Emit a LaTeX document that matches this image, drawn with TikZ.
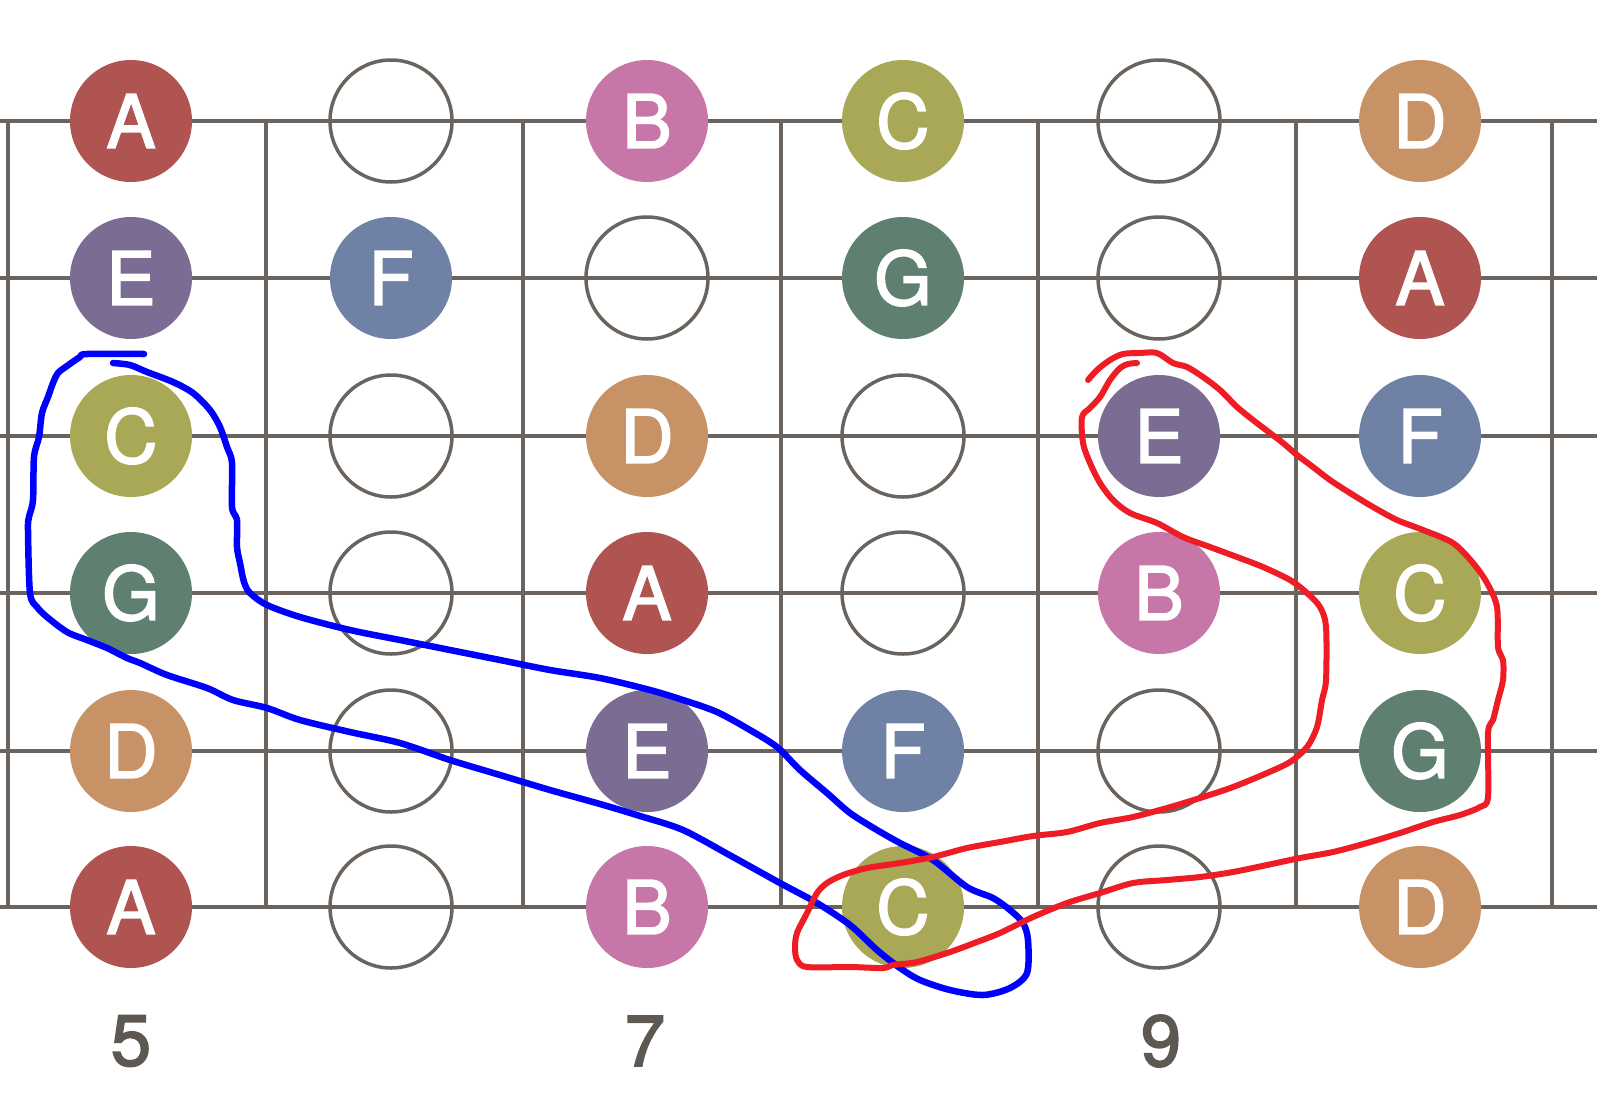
\documentclass[tikz,border=0pt]{standalone}
\usepackage{fontspec}
\newfontfamily\heros[FakeBold=2]{TeX Gyre Heros}
\newfontfamily\herosd[FakeBold=2.5]{TeX Gyre Heros}
\definecolor{noteA}{HTML}{B05452}
\definecolor{noteB}{HTML}{C677A8}
\definecolor{noteC}{HTML}{A9A857}
\definecolor{noteD}{HTML}{C79366}
\definecolor{noteE}{HTML}{7B6C94}
\definecolor{noteF}{HTML}{6F81A5}
\definecolor{noteG}{HTML}{5F8070}
\definecolor{gridc}{HTML}{6B645E}
\definecolor{digitc}{HTML}{5E5853}
\definecolor{penblue}{HTML}{0000FF}
\definecolor{penred}{HTML}{EE1C25}
\begin{document}
\begin{tikzpicture}[x=1pt,y=-1pt,
  gridline/.style={draw=gridc, line width=3.5pt},
  note/.style={circle, minimum size=122pt, inner sep=0pt, text=white,
    font=\heros\fontsize{74}{74}\selectfont},
  emptynote/.style={circle, minimum size=122pt, inner sep=0pt, draw=gridc, line width=3.5pt},
  fretnum/.style={text=digitc, inner sep=0pt, font=\herosd\fontsize{72}{72}\selectfont},
  bluepen/.style={draw=penblue, line width=6.5pt, line cap=round, line join=round},
  redpen/.style={draw=penred, line width=6pt, line cap=round, line join=round}]
\useasboundingbox (0,0) rectangle (1597,1095);
\fill[white] (0,0) rectangle (1597,1095);
% grid
\foreach \y in {121,278,436,593,751,907}
  \draw[gridline] (0,\y) -- (1597,\y);
\foreach \x in {8,266,523,781,1038,1296,1552}
  \draw[gridline] (\x,121) -- (\x,907);
% columns and rows
\def\cx#1{\ifcase#1\or131\or391\or647\or903\or1159\or1420\fi}
\def\ry#1{\ifcase#1\or121\or278\or436\or593\or751\or907\fi}
% empty positions
\foreach \r/\c in {1/2,1/5,2/3,2/5,3/2,3/4,4/2,4/4,5/2,5/5,6/2,6/5}
  \node[emptynote] (n\r\c) at (\cx{\c},\ry{\r}) {};
% notes
\foreach \r/\c/\l in {1/1/A,1/3/B,1/4/C,1/6/D,
                      2/1/E,2/2/F,2/4/G,2/6/A,
                      3/1/C,3/3/D,3/5/E,3/6/F,
                      4/1/G,4/3/A,4/5/B,4/6/C,
                      5/1/D,5/3/E,5/4/F,5/6/G,
                      6/1/A,6/3/B,6/4/C,6/6/D}
  \node[note, fill=note\l] (n\r\c) at (\cx{\c},\ry{\r}) {\l};
% fret numbers
\node[fretnum] (f5) at (131,1041) {5};
\node[fretnum] (f7) at (645,1041) {7};
\node[fretnum] (f9) at (1161,1041) {9};
% blue hand-drawn loop
\draw[bluepen] plot[smooth, tension=0.5] coordinates {
 (144,354) (87,354) (80,357) (67,366) (58,373) (53,383) (48,397) (42,413)
 (39,437) (34,457) (33,500) (29,517) (28,530) (30,593) (37,607) (47,617)
 (67,632) (87,640) (107,648) (127,658) (140,663) (167,675) (207,688)
 (233,700) (267,708) (300,720) (350,732) (400,743) (450,760) (500,775)
 (550,790) (600,804) (640,816) (683,830) (733,857) (780,883) (817,903)
 (850,925) (877,950) (900,968) (920,980) (950,990) (983,995) (1010,988)
 (1027,973) (1028,940) (1023,923) (1010,910) (993,898) (967,887) (933,860)
 (900,843) (877,830) (850,813) (827,793) (800,770) (777,747) (750,730)
 (717,712) (683,700) (650,690) (600,678) (550,670) (500,660) (450,650)
 (400,640) (350,630) (300,617) (267,605) (250,593) (244,582) (240,563)
 (237,547) (237,520) (232,507) (232,463) (227,447) (220,427) (210,410)
 (193,393) (173,382) (147,372) (130,365) (113,363)};
% red hand-drawn loop
\draw[redpen] plot[smooth, tension=0.5] coordinates {
 (1088,380) (1097,370) (1110,360) (1123,354) (1140,353) (1157,353) (1173,363)
 (1187,367) (1203,377) (1220,390) (1237,407) (1253,420) (1270,433)
 (1283,443) (1297,455) (1313,467) (1330,480) (1350,493) (1373,507)
 (1397,520) (1423,530) (1453,543) (1473,563) (1487,583) (1497,607)
 (1498,647) (1503,660) (1503,680) (1498,700) (1493,720) (1488,733)
 (1488,797) (1480,807) (1460,815) (1433,822) (1400,833) (1367,843)
 (1333,852) (1300,858) (1267,865) (1233,872) (1200,877) (1167,880)
 (1133,883) (1100,893) (1067,903) (1033,917) (1000,933) (977,942)
 (950,952) (917,962) (893,965) (883,968) (850,967) (807,967) (797,960)
 (795,947) (797,933) (807,913) (817,893) (827,883) (843,875) (867,868)
 (900,863) (933,857) (967,848) (1000,842) (1033,836) (1067,832)
 (1100,823) (1133,817) (1167,808) (1200,798) (1233,787) (1267,773)
 (1290,762) (1307,747) (1317,727) (1322,700) (1326,680) (1326,627)
 (1320,607) (1307,593) (1290,580) (1263,567) (1237,557) (1210,547)
 (1183,537) (1157,523) (1130,513) (1113,500) (1100,483) (1090,463)
 (1083,443) (1082,417) (1090,408) (1100,397) (1110,380) (1120,368)
 (1128,364) (1137,363)};
\end{tikzpicture}
\end{document}
